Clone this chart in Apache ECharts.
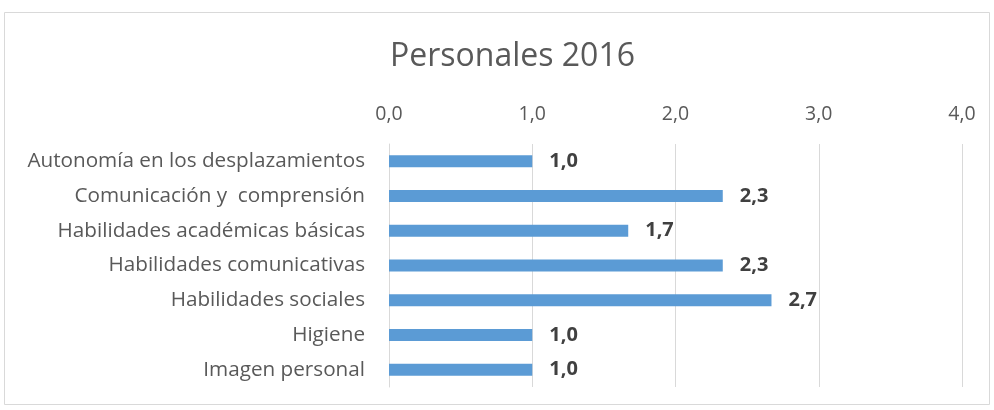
<!DOCTYPE html>
<html>
<head>
<meta charset="utf-8">
<script src="https://cdn.jsdelivr.net/npm/echarts@6/dist/echarts.min.js"></script>
<style>
  html, body { margin: 0; padding: 0; background: #fff; }
  #chart { width: 994px; height: 410px; }
</style>
</head>
<body>
<div id="chart"></div>
<script>
// categories, top to bottom
const categories = [
    "Autonomía en los desplazamientos",
    "Comunicación y  comprensión",
    "Habilidades académicas básicas",
    "Habilidades comunicativas",
    "Habilidades sociales",
    "Higiene",
    "Imagen personal"
]
const values = [1.0, 2.33, 1.67, 2.33, 2.67, 1.0, 1.0]
const tickLabels = ["0,0", "1,0", "2,0", "3,0", "4,0"]

const fontFamily = "'Open Sans', sans-serif"

const chart = echarts.init(document.getElementById('chart'))

const option = {
    animation: false,
    backgroundColor: '#fff',
    title: {
        text: 'Personales 2016',
        left: 385,
        top: 36,
        textStyle: {
            fontFamily,
            fontSize: 32,
            fontWeight: 'normal',
            color: '#595959',
        },
    },
    graphic: [
        {
            type: 'rect',
            shape: { x: 4.5, y: 12.5, width: 985, height: 392 },
            style: { fill: 'none', stroke: '#d9d9d9', lineWidth: 1 },
            silent: true,
        },
    ],
    grid: {
        left: 389,
        right: 32,
        top: 144,
        bottom: 23,
    },
    xAxis: {
        type: 'value',
        position: 'top',
        min: 0,
        max: 4,
        interval: 1,
        axisLine: { show: false },
        axisTick: { show: false },
        splitLine: {
            show: true,
            lineStyle: { color: '#d9d9d9', width: 1 },
        },
        axisLabel: {
            margin: 20,
            fontFamily,
            fontSize: 19.5,
            color: '#595959',
            formatter: (v) => tickLabels[Math.round(v)],
        },
    },
    yAxis: {
        type: 'category',
        inverse: true,
        data: categories,
        axisLine: { show: true, lineStyle: { color: '#d9d9d9' } },
        axisTick: { show: false },
        axisLabel: {
            margin: 24,
            fontFamily,
            fontSize: 20.7,
            color: '#595959',
        },
    },
    series: [
        {
            type: 'bar',
            data: values,
            barWidth: 12,
            itemStyle: { color: '#5b9bd5' },
            label: {
                show: true,
                position: 'right',
                distance: 17,
                fontFamily,
                fontSize: 20,
                fontWeight: 'bold',
                color: '#404040',
                formatter: (p) => p.value.toFixed(1).replace('.', ','),
            },
        },
    ],
}

chart.setOption(option)
</script>
</body>
</html>
